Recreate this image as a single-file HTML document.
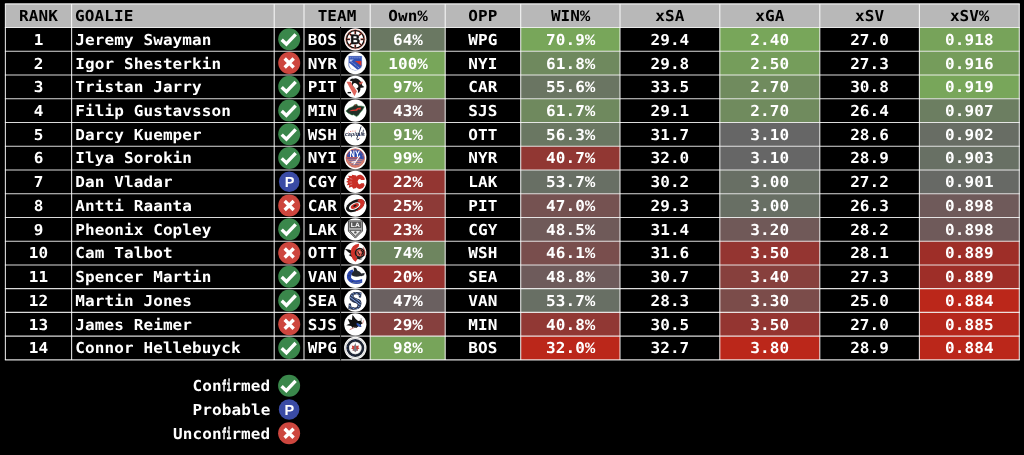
<!DOCTYPE html>
<html lang="en"><head><meta charset="utf-8"><title>Goalie Rankings</title>
<style>
html,body{margin:0;padding:0;background:#000;}
body{width:1024px;height:455px;overflow:hidden;position:relative;}
svg{position:absolute;left:0;top:0;display:block;}
text{font-family:"DejaVu Sans Mono", "Liberation Mono", monospace;font-weight:bold;font-size:16px;letter-spacing:0.1px;text-rendering:geometricPrecision;}
.p{font-family:"Liberation Mono","DejaVu Sans Mono",monospace;font-size:17px;}
.fi{stroke:#fff;stroke-width:0.45px;}
.h{fill:#000;} .w{fill:#fff;} .m{text-anchor:middle;} .e{text-anchor:end;}
</style></head><body>
<svg width="1024" height="455" viewBox="0 0 1024 455">
<defs>
<pattern id="seaS" width="2.2" height="2.2" patternUnits="userSpaceOnUse" patternTransform="rotate(35)"><rect width="2.2" height="2.2" fill="#202b45"/><rect width="2.2" height="0.9" fill="#7ea0e4"/></pattern>
<g id="ic-c"><circle r="11" fill="#3a874b"/><path d="M-7.5 0.4L-2.8 4.9L6.5 -4.9" fill="none" stroke="#fff" stroke-width="3.4" stroke-linecap="butt" stroke-linejoin="miter"/></g>
<g id="ic-x"><circle r="11" fill="#cd463e"/><path d="M-4.5 -4.5L4.5 4.5M4.5 -4.5L-4.5 4.5" fill="none" stroke="#fff" stroke-width="3.4" stroke-linecap="butt"/></g>
<g id="ic-p"><circle r="10.3" fill="#3a4ba5"/><text x="0.4" y="5.2" text-anchor="middle" style="font-family:'Liberation Sans',sans-serif;font-size:14.5px;font-weight:bold;fill:#fff">P</text></g>
<g id="lg-BOS"><circle r="11.1" fill="#fff"/><circle r="8.8" fill="none" stroke="#111" stroke-width="1.4"/><circle r="9.7" fill="none" stroke="#e0563a" stroke-width="0.45"/><g stroke="#d2452f" stroke-width="1.7"><path d="M0 -8.4V8.4M-8.4 0H8.4M-5.9 -5.9L5.9 5.9M5.9 -5.9L-5.9 5.9"/></g><g stroke="#111" stroke-width="1"><path d="M0 -8.4V8.4M-8.4 0H8.4M-5.9 -5.9L5.9 5.9M5.9 -5.9L-5.9 5.9"/></g><circle r="5.3" fill="#fff"/><text x="0" y="4.9" text-anchor="middle" style="font-family:'Liberation Sans',sans-serif;font-size:13.6px;font-weight:bold;fill:#111;stroke:#111;stroke-width:0.5px">B</text></g>
<g id="lg-NYR"><circle r="11.1" fill="#fff"/><path d="M-6.7 -7H6.6V2.5Q6.4 6 0 7.4Q-6.4 6 -6.7 2.5Z" fill="#3050b4"/><path d="M-6.2 -0.4L2.2 6.6Q0.8 7.1 0 7.3Q-5.8 5.9 -6.1 2.5Z" fill="#fff"/><path d="M-0.4 -2.1H6.1V2.9Z" fill="#d2362f"/><path d="M-5.6 -3.6H-1.4L-5.6 -1.2Z" fill="#c5cef0"/><path d="M-5.6 -5.3H5.6" stroke="#9fb0e4" stroke-width="0.9" stroke-dasharray="1.2 0.7"/><path d="M-4.2 -1.6L4 5" stroke="#a9b8e8" stroke-width="0.9" stroke-dasharray="1 0.8"/><path d="M-6.7 -7H6.6V2.5Q6.4 6 0 7.4Q-6.4 6 -6.7 2.5Z" fill="none" stroke="#aeb6d6" stroke-width="0.4"/></g>
<g id="lg-PIT"><circle r="11.1" fill="#fff"/><path d="M-8.8 -5.1L-4.6 -5.1L1.6 4.4L-0.8 9.4Z" fill="#e0665c"/><path d="M2.4 -5.4L7.8 -5.2L5.4 -0.6L3 -1.4Z" fill="#e0665c"/><path d="M-5.6 -6.4Q-4.6 -8.6 -1.6 -8.2Q0.6 -9 3 -7.6Q5.6 -6.2 6 -3.4Q6.6 -1.4 9 0.2Q7.2 1.4 5.2 0.8Q5.4 3.4 4 5.4L2.6 6.2Q3.4 3.2 1.4 1.6Q-1.8 0.6 -3.2 -2.2Q-3.8 -4 -3 -5.6Q-4.4 -5.6 -5.6 -6.4Z" fill="#141414"/><ellipse cx="0.3" cy="-1.3" rx="3" ry="2.1" transform="rotate(40 0.3 -1.3)" fill="#fff"/><path d="M3.4 -4.6L6.4 -4.2L4.8 -1.8Z" fill="#d9584e"/><path d="M-7.7 5.8H-4.3" stroke="#141414" stroke-width="1.4"/></g>
<g id="lg-MIN"><circle r="11.1" fill="#fff"/><path d="M-9.4 0.4Q-6.6 -3 -2.4 -4.2Q-0.6 -6.6 1.6 -6.4L2.6 -4.6Q6 -5 9 -3.8Q7.6 -0.4 4.6 2.4Q3.4 5.2 1.2 6L-1.6 4.2Q-3.4 5 -4.4 3.8Q-7.4 3 -9.4 0.4Z" fill="#1f2f27"/><path d="M-9.4 0.4Q-6.6 -3 -2.4 -4.2Q-0.6 -6.6 1.6 -6.4L2.6 -4.6Q6 -5 9 -3.8Q7.6 -0.4 4.6 2.4Q3.4 5.2 1.2 6L-1.6 4.2Q-3.4 5 -4.4 3.8Q-7.4 3 -9.4 0.4Z" fill="none" stroke="#2f8a45" stroke-width="0.5"/><path d="M-6.6 0.6L-3.2 -0.8L0.2 -1.2L2 -2.6L5.8 -3.2L5 -0.6L3.4 -1.4L1.6 0.2L-2.4 0.4Z" fill="#d63a30"/><path d="M-0.6 -5.4L1 -5.6" stroke="#d63a30" stroke-width="0.8"/></g>
<g id="lg-WSH"><circle r="11.1" fill="#fff"/><text x="-0.3" y="2.1" text-anchor="middle" textLength="20" lengthAdjust="spacingAndGlyphs" style="font-family:'Liberation Sans',sans-serif;font-size:5.4px;font-weight:bold;font-style:italic;fill:#1d2440">capitals</text><path d="M5.8 -7.8Q4.2 -2 2.4 1.6Q1 4.6 1.8 5.4Q2.6 6 3.8 4.6" fill="none" stroke="#1d2440" stroke-width="0.9"/><path d="M8.2 -4.6L7.2 1" stroke="#1d2440" stroke-width="0.8"/><g fill="#d8544c"><circle cx="-4.6" cy="-2.9" r="0.5"/><circle cx="-2.4" cy="-3.3" r="0.5"/><circle cx="-0.2" cy="-3.3" r="0.5"/><circle cx="-6.6" cy="-2.1" r="0.4"/><circle cx="4.4" cy="3.9" r="0.45"/></g><circle cx="4.1" cy="0.8" r="0.7" fill="#2f4fb3"/></g>
<g id="lg-NYI"><circle r="11.1" fill="#fff"/><circle r="9.2" fill="#2c4cae"/><path d="M-9.1 1.2H9.1A9.2 9.2 0 0 1 -9.1 1.2Z" fill="#d98a78"/><path d="M-7 2.6H7.4M-6 4.6H6M-4 6.6H4" stroke="#2c4cae" stroke-width="0.8" opacity="0.75"/><path d="M-9 -0.9H3.4L5.6 0.3H-9.1Z" fill="#de5f4a"/><circle r="9.2" fill="none" stroke="#de6a55" stroke-width="0.9"/><circle r="7.6" fill="none" stroke="#de6a55" stroke-width="0.8" stroke-dasharray="1.1 0.9" pathLength="60" stroke-dashoffset="-30" opacity="0.9"/><path d="M-1.6 6.4L4.6 -2.4" stroke="#fff" stroke-width="1.1"/><path d="M-3.8 4.2L0.4 3.4" stroke="#fff" stroke-width="1.2"/><path d="M5.4 -0.4L8 1.2" stroke="#2c4cae" stroke-width="0.9"/><text x="-0.6" y="-1.5" text-anchor="middle" textLength="10.4" lengthAdjust="spacingAndGlyphs" style="font-family:'Liberation Sans',sans-serif;font-size:9.2px;font-weight:bold;fill:#fff">NY</text></g>
<g id="lg-CGY"><circle r="11.1" fill="#fff"/><path d="M9.3 -3.6A5.5 7.1 0 1 0 9.3 3.6L8.6 1.4H5.8A1.9 2.5 0 1 1 5.8 -1.9H9.3Z" fill="#c92f27"/><path d="M1 -6.4L-3.6 -7.2L-3.2 -5.8L-7.4 -6L-6 -4L-9 -3L-7 -1.6L-9.2 0.2L-7 1L-8.6 3.4L-6 3.2L-6.6 6L-3.4 5L-2 6.8L1 6.2Z" fill="#c92f27"/><path d="M-5.6 -3.4L-3 -2.6M-6 0.2L-3.4 0.2M-5.2 3L-3 2.2" stroke="#fff" stroke-width="0.5" opacity="0.7"/></g>
<g id="lg-CAR"><circle r="11.1" fill="#fff"/><g transform="rotate(-26)"><ellipse rx="10" ry="5.5" fill="#161616"/><path d="M6 -4.4A10 5.5 0 0 1 -3 5.25Q2.4 4.4 4.6 1.8Q6.2 -1 3.6 -3Q4.8 -3.6 6 -4.4Z" fill="#cf3129"/><ellipse cx="-0.8" cy="0.2" rx="6.2" ry="3.2" fill="#fff"/><ellipse cx="-0.6" cy="0.2" rx="4.4" ry="2.2" fill="#cf3129"/><ellipse cx="-0.4" cy="0" rx="1.8" ry="0.9" fill="#161616"/></g></g>
<g id="lg-LAK"><circle r="11.1" fill="#fff"/><path d="M-6.9 -8.4H7.1V1.8L0.1 8.8L-6.9 1.8Z" fill="#b4b4b4" stroke="#4a4a4a" stroke-width="1"/><path d="M-5.3 -6.9H5.5V-1.7H-5.3Z" fill="#5a5a5a" stroke="#3a3a3a" stroke-width="0.6"/><path d="M-5.4 1H5.6V1.5L0.1 6.9L-5.4 1.5Z" fill="#ececec" stroke="#333" stroke-width="0.8"/><text x="0.1" y="-2.1" text-anchor="middle" textLength="9.2" lengthAdjust="spacingAndGlyphs" style="font-family:'Liberation Sans',sans-serif;font-size:6.2px;font-weight:bold;fill:#fff">LA</text><circle cx="0.1" cy="3.1" r="1.2" fill="#555"/></g>
<g id="lg-OTT"><circle r="11.1" fill="#fff"/><path d="M-10.6 -4.2Q-6 -3.4 -3 -2.4L-2 4.6Q-5 3.4 -6.6 2L-4.4 1Q-7.8 -1.2 -10.6 -4.2Z" fill="#151515"/><path d="M3.8 -9.2Q-4.6 -8.4 -4.4 -0.4Q-4 6.4 0.4 8.8Q1.4 6.8 2.6 6Q0 3.6 0.2 -0.6Q0.4 -4.6 3.4 -6.4Z" fill="#cf3129"/><circle cx="4.6" cy="-0.2" r="4.4" fill="#d9584c" stroke="#151515" stroke-width="1.5"/><path d="M0.8 4.8Q3.4 7.6 7.4 5.6Q5 6 3 3.8Z" fill="#151515"/><path d="M5.6 -3L7.8 -1L6.2 2.4" fill="none" stroke="#151515" stroke-width="1.1"/><path d="M2.4 -1.6L4.4 1.8" stroke="#151515" stroke-width="0.9"/><circle cx="4.6" cy="-0.9" r="0.8" fill="#f0b8b0"/><path d="M8 -5.6Q10.4 -2 9.4 2.8" fill="none" stroke="#cf3129" stroke-width="0.8"/></g>
<g id="lg-VAN"><circle r="11.1" fill="#fff"/><path d="M7 5.6Q2 8.4 -3.4 6.4Q-9 3.6 -8.4 -1.4Q-7.4 -6 -2.8 -7.2L-0.6 -4.4Q-4 -3.4 -4.2 -0.4Q-4 2.8 -0.4 3.4Q3.2 3.6 6.8 2.2Z" fill="#2a46ae"/><path d="M-1.6 -9.4L0.8 -8.8L2 -6.4Q5 -5.4 6 -3.4L9.4 -3.8L8.8 -1.6L6.6 -0.8Q6 -0.4 5.2 -0.8Q1.4 0.6 -2.4 -0.8Q-4.4 -1.6 -3.6 -3.4Q-2.8 -4.8 -1.4 -5.6Z" fill="#24272e"/><path d="M-4 0.6Q0.8 2.6 7.4 0.4" fill="none" stroke="#fff" stroke-width="1.5"/><path d="M-3.6 5.6Q1 7.2 6.4 4.6" fill="none" stroke="#5a6f9e" stroke-width="0.9"/><g fill="#24272e" opacity="0.55"><circle cx="-6.4" cy="-1" r="0.7"/><circle cx="-5.6" cy="2.6" r="0.7"/><circle cx="-5" cy="-4" r="0.7"/><circle cx="-2.8" cy="4.8" r="0.7"/></g></g>
<g id="lg-SEA"><circle r="11.1" fill="#fff"/><text x="0" y="8.2" text-anchor="middle" transform="skewX(-6)" style="font-family:'Liberation Serif',serif;font-size:25px;font-weight:bold;fill:url(#seaS);stroke:#172036;stroke-width:1.1px;paint-order:stroke">S</text></g>
<g id="lg-SJS"><circle r="11.1" fill="#fff"/><path d="M-2.8 -9.6L0.4 -5.2L2.8 -3.4L6.6 -3.8L5.8 -2.2L7.4 -1.4L5.6 0.2L6 2.6L3.2 2L1 3.6L-1.6 2.4L-2.4 4L-4.2 1.8L-9 1L-5.4 -0.8L-7.6 -5.2L-3.4 -4.2Z" fill="#111"/><path d="M1.4 -1.6L5.4 0.4L6 2.4L3.6 2.2L1.4 0.6Z" fill="#2f4fc0"/><path d="M3.2 -0.4L4.6 0.8" stroke="#36a06a" stroke-width="0.7"/><path d="M-5.6 5.4L-0.2 2.8" stroke="#c9756c" stroke-width="0.9"/><path d="M-1.4 3.4L1.6 2.6" stroke="#555" stroke-width="0.8"/><path d="M8.4 -4L7.2 -0.4" stroke="#d26a62" stroke-width="0.6"/><path d="M4.6 -5.2L6.6 -5.6L5.6 -4" fill="none" stroke="#777" stroke-width="0.5"/></g>
<g id="lg-WPG"><circle r="11.2" fill="#fff"/><circle r="10" fill="none" stroke="#c4c4c4" stroke-width="0.7"/><circle r="7.6" fill="none" stroke="#1d2433" stroke-width="2.7"/><circle r="5.9" fill="none" stroke="#cfcfcf" stroke-width="0.5"/><path d="M0 -3.6L1.2 -2L3.6 -2.6L3 -0.6L4.2 0.4L2.4 1.2L2.6 2.8L0.6 2.4L0 4.4L-0.6 2.4L-2.6 2.8L-2.4 1.2L-4.2 0.4L-3 -0.6L-3.6 -2.6L-1.2 -2Z" fill="#c8403a"/><path d="M0 -5.4L0.9 -2.2L1 0.6L3 2.4L1 2.4L0.8 3.8L0 3.4L-0.8 3.8L-1 2.4L-3 2.4L-1 0.6L-0.9 -2.2Z" fill="#777c85"/><g fill="#3b5fd0"><circle cx="-1.2" cy="-7.6" r="0.4"/><circle cx="-7.5" cy="-1.4" r="0.4"/><circle cx="-7.5" cy="1.6" r="0.4"/><circle cx="-3.2" cy="7" r="0.4"/></g></g>

</defs>
<rect x="0" y="0" width="1024" height="455" fill="#000"/>
<rect x="5.4" y="3.9" width="1013.9" height="23.6" fill="#b8b8b8"/>
<rect x="370.2" y="27.50" width="75" height="23.74" fill="#6a7862"/>
<rect x="520.7" y="27.50" width="99.3" height="23.74" fill="#78a65a"/>
<rect x="719.8" y="27.50" width="100" height="23.74" fill="#78a65a"/>
<rect x="919.4" y="27.50" width="99.9" height="23.74" fill="#77a35a"/>
<rect x="370.2" y="51.24" width="75" height="23.74" fill="#78a65a"/>
<rect x="520.7" y="51.24" width="99.3" height="23.74" fill="#6f895e"/>
<rect x="719.8" y="51.24" width="100" height="23.74" fill="#759d5b"/>
<rect x="919.4" y="51.24" width="99.9" height="23.74" fill="#759c5b"/>
<rect x="370.2" y="74.99" width="75" height="23.74" fill="#77a35a"/>
<rect x="520.7" y="74.99" width="99.3" height="23.74" fill="#6a7562"/>
<rect x="719.8" y="74.99" width="100" height="23.74" fill="#708b5e"/>
<rect x="919.4" y="74.99" width="99.9" height="23.74" fill="#78a65a"/>
<rect x="370.2" y="98.73" width="75" height="23.74" fill="#705958"/>
<rect x="520.7" y="98.73" width="99.3" height="23.74" fill="#6f895e"/>
<rect x="719.8" y="98.73" width="100" height="23.74" fill="#708b5e"/>
<rect x="919.4" y="98.73" width="99.9" height="23.74" fill="#6c7e61"/>
<rect x="370.2" y="122.47" width="75" height="23.74" fill="#749b5b"/>
<rect x="520.7" y="122.47" width="99.3" height="23.74" fill="#6a7762"/>
<rect x="719.8" y="122.47" width="100" height="23.74" fill="#666666"/>
<rect x="919.4" y="122.47" width="99.9" height="23.74" fill="#686d64"/>
<rect x="370.2" y="146.21" width="75" height="23.74" fill="#78a55a"/>
<rect x="520.7" y="146.21" width="99.3" height="23.74" fill="#913733"/>
<rect x="719.8" y="146.21" width="100" height="23.74" fill="#666666"/>
<rect x="919.4" y="146.21" width="99.9" height="23.74" fill="#687064"/>
<rect x="370.2" y="169.96" width="75" height="23.74" fill="#933632"/>
<rect x="520.7" y="169.96" width="99.3" height="23.74" fill="#686f64"/>
<rect x="719.8" y="169.96" width="100" height="23.74" fill="#686f64"/>
<rect x="919.4" y="169.96" width="99.9" height="23.74" fill="#676965"/>
<rect x="370.2" y="193.70" width="75" height="23.74" fill="#8d3a37"/>
<rect x="520.7" y="193.70" width="99.3" height="23.74" fill="#755251"/>
<rect x="719.8" y="193.70" width="100" height="23.74" fill="#686f64"/>
<rect x="919.4" y="193.70" width="99.9" height="23.74" fill="#6f5a5a"/>
<rect x="370.2" y="217.44" width="75" height="23.74" fill="#913733"/>
<rect x="520.7" y="217.44" width="99.3" height="23.74" fill="#6f5a59"/>
<rect x="719.8" y="217.44" width="100" height="23.74" fill="#705958"/>
<rect x="919.4" y="217.44" width="99.9" height="23.74" fill="#6f5a5a"/>
<rect x="370.2" y="241.19" width="75" height="23.74" fill="#6e855f"/>
<rect x="520.7" y="241.19" width="99.3" height="23.74" fill="#794e4d"/>
<rect x="719.8" y="241.19" width="100" height="23.74" fill="#943531"/>
<rect x="919.4" y="241.19" width="99.9" height="23.74" fill="#9e2e28"/>
<rect x="370.2" y="264.93" width="75" height="23.74" fill="#96332f"/>
<rect x="520.7" y="264.93" width="99.3" height="23.74" fill="#6e5b5b"/>
<rect x="719.8" y="264.93" width="100" height="23.74" fill="#87403d"/>
<rect x="919.4" y="264.93" width="99.9" height="23.74" fill="#9e2e28"/>
<rect x="370.2" y="288.67" width="75" height="23.74" fill="#6a6060"/>
<rect x="520.7" y="288.67" width="99.3" height="23.74" fill="#686f64"/>
<rect x="719.8" y="288.67" width="100" height="23.74" fill="#7b4c4a"/>
<rect x="919.4" y="288.67" width="99.9" height="23.74" fill="#bb271a"/>
<rect x="370.2" y="312.41" width="75" height="23.74" fill="#86403e"/>
<rect x="520.7" y="312.41" width="99.3" height="23.74" fill="#913834"/>
<rect x="719.8" y="312.41" width="100" height="23.74" fill="#943531"/>
<rect x="919.4" y="312.41" width="99.9" height="23.74" fill="#b5271c"/>
<rect x="370.2" y="336.16" width="75" height="23.74" fill="#77a45a"/>
<rect x="520.7" y="336.16" width="99.3" height="23.74" fill="#bb271a"/>
<rect x="719.8" y="336.16" width="100" height="23.74" fill="#bb271a"/>
<rect x="919.4" y="336.16" width="99.9" height="23.74" fill="#bb271a"/>
<g stroke="#ffffff" stroke-width="1.1" stroke-opacity="0.86" fill="none">
<path d="M4.9 3.9H1019.8"/>
<path d="M4.9 27.50H1019.8"/>
<path d="M4.9 51.24H1019.8"/>
<path d="M4.9 74.99H1019.8"/>
<path d="M4.9 98.73H1019.8"/>
<path d="M4.9 122.47H1019.8"/>
<path d="M4.9 146.21H1019.8"/>
<path d="M4.9 169.96H1019.8"/>
<path d="M4.9 193.70H1019.8"/>
<path d="M4.9 217.44H1019.8"/>
<path d="M4.9 241.19H1019.8"/>
<path d="M4.9 264.93H1019.8"/>
<path d="M4.9 288.67H1019.8"/>
<path d="M4.9 312.41H1019.8"/>
<path d="M4.9 336.16H1019.8"/>
<path d="M4.9 359.90H1019.8"/>
<path d="M5.4 3.9V359.90"/>
<path d="M71.6 3.9V359.90"/>
<path d="M274.2 3.9V359.90"/>
<path d="M304 3.9V359.90"/>
<path d="M370.2 3.9V359.90"/>
<path d="M445.2 3.9V359.90"/>
<path d="M520.7 3.9V359.90"/>
<path d="M620 3.9V359.90"/>
<path d="M719.8 3.9V359.90"/>
<path d="M819.8 3.9V359.90"/>
<path d="M919.4 3.9V359.90"/>
<path d="M1019.3 3.9V359.90"/>
</g>
<path d="M340.6 26.9V360.50" stroke="#161616" stroke-width="1"/>
<g class="h" transform="scale(1,0.94)">
<text class="m" x="38.5" y="22.19">RANK</text>
<text x="75" y="22.19">GOALIE</text>
<text class="m" x="337.1" y="22.19">TEAM</text>
<text class="m" x="408" y="22.19">Own<tspan class="p">%</tspan></text>
<text class="m" x="482.95" y="22.19">OPP</text>
<text class="m" x="570.65" y="22.19">WIN<tspan class="p">%</tspan></text>
<text class="m" x="669.9" y="22.19">xSA</text>
<text class="m" x="769.8" y="22.19">xGA</text>
<text class="m" x="869.6" y="22.19">xSV</text>
<text class="m" x="969.65" y="22.19">xSV<tspan class="p">%</tspan></text>
</g>
<g class="w" transform="scale(1,0.94)">
<text class="m" x="38.5" y="47.63">1</text>
<text x="75.3" y="47.63">Jeremy Swayman</text>
<text x="307.8" y="47.63">BOS</text>
<text class="m" x="408" y="47.63">64<tspan class="p">%</tspan></text>
<text class="m" x="482.95" y="47.63">WPG</text>
<text class="m" x="570.65" y="47.63">70.9<tspan class="p">%</tspan></text>
<text class="m" x="669.9" y="47.63">29.4</text>
<text class="m" x="769.8" y="47.63">2.40</text>
<text class="m" x="869.6" y="47.63">27.0</text>
<text class="m" x="969.35" y="47.63">0.918</text>
<text class="m" x="38.5" y="72.89">2</text>
<text x="75.3" y="72.89">Igor Shesterkin</text>
<text x="307.8" y="72.89">NYR</text>
<text class="m" x="408" y="72.89">100<tspan class="p">%</tspan></text>
<text class="m" x="482.95" y="72.89">NYI</text>
<text class="m" x="570.65" y="72.89">61.8<tspan class="p">%</tspan></text>
<text class="m" x="669.9" y="72.89">29.8</text>
<text class="m" x="769.8" y="72.89">2.50</text>
<text class="m" x="869.6" y="72.89">27.3</text>
<text class="m" x="969.35" y="72.89">0.916</text>
<text class="m" x="38.5" y="98.15">3</text>
<text x="75.3" y="98.15">Tristan Jarry</text>
<text x="307.8" y="98.15">PIT</text>
<text class="m" x="408" y="98.15">97<tspan class="p">%</tspan></text>
<text class="m" x="482.95" y="98.15">CAR</text>
<text class="m" x="570.65" y="98.15">55.6<tspan class="p">%</tspan></text>
<text class="m" x="669.9" y="98.15">33.5</text>
<text class="m" x="769.8" y="98.15">2.70</text>
<text class="m" x="869.6" y="98.15">30.8</text>
<text class="m" x="969.35" y="98.15">0.919</text>
<text class="m" x="38.5" y="123.40">4</text>
<text x="75.3" y="123.40">Filip Gustavsson</text>
<text x="307.8" y="123.40">MIN</text>
<text class="m" x="408" y="123.40">43<tspan class="p">%</tspan></text>
<text class="m" x="482.95" y="123.40">SJS</text>
<text class="m" x="570.65" y="123.40">61.7<tspan class="p">%</tspan></text>
<text class="m" x="669.9" y="123.40">29.1</text>
<text class="m" x="769.8" y="123.40">2.70</text>
<text class="m" x="869.6" y="123.40">26.4</text>
<text class="m" x="969.35" y="123.40">0.907</text>
<text class="m" x="38.5" y="148.66">5</text>
<text x="75.3" y="148.66">Darcy Kuemper</text>
<text x="307.8" y="148.66">WSH</text>
<text class="m" x="408" y="148.66">91<tspan class="p">%</tspan></text>
<text class="m" x="482.95" y="148.66">OTT</text>
<text class="m" x="570.65" y="148.66">56.3<tspan class="p">%</tspan></text>
<text class="m" x="669.9" y="148.66">31.7</text>
<text class="m" x="769.8" y="148.66">3.10</text>
<text class="m" x="869.6" y="148.66">28.6</text>
<text class="m" x="969.35" y="148.66">0.902</text>
<text class="m" x="38.5" y="173.92">6</text>
<text x="75.3" y="173.92">Ilya Sorokin</text>
<text x="307.8" y="173.92">NYI</text>
<text class="m" x="408" y="173.92">99<tspan class="p">%</tspan></text>
<text class="m" x="482.95" y="173.92">NYR</text>
<text class="m" x="570.65" y="173.92">40.7<tspan class="p">%</tspan></text>
<text class="m" x="669.9" y="173.92">32.0</text>
<text class="m" x="769.8" y="173.92">3.10</text>
<text class="m" x="869.6" y="173.92">28.9</text>
<text class="m" x="969.35" y="173.92">0.903</text>
<text class="m" x="38.5" y="199.18">7</text>
<text x="75.3" y="199.18">Dan Vladar</text>
<text x="307.8" y="199.18">CGY</text>
<text class="m" x="408" y="199.18">22<tspan class="p">%</tspan></text>
<text class="m" x="482.95" y="199.18">LAK</text>
<text class="m" x="570.65" y="199.18">53.7<tspan class="p">%</tspan></text>
<text class="m" x="669.9" y="199.18">30.2</text>
<text class="m" x="769.8" y="199.18">3.00</text>
<text class="m" x="869.6" y="199.18">27.2</text>
<text class="m" x="969.35" y="199.18">0.901</text>
<text class="m" x="38.5" y="224.44">8</text>
<text x="75.3" y="224.44">Antti Raanta</text>
<text x="307.8" y="224.44">CAR</text>
<text class="m" x="408" y="224.44">25<tspan class="p">%</tspan></text>
<text class="m" x="482.95" y="224.44">PIT</text>
<text class="m" x="570.65" y="224.44">47.0<tspan class="p">%</tspan></text>
<text class="m" x="669.9" y="224.44">29.3</text>
<text class="m" x="769.8" y="224.44">3.00</text>
<text class="m" x="869.6" y="224.44">26.3</text>
<text class="m" x="969.35" y="224.44">0.898</text>
<text class="m" x="38.5" y="249.70">9</text>
<text x="75.3" y="249.70">Pheonix Copley</text>
<text x="307.8" y="249.70">LAK</text>
<text class="m" x="408" y="249.70">23<tspan class="p">%</tspan></text>
<text class="m" x="482.95" y="249.70">CGY</text>
<text class="m" x="570.65" y="249.70">48.5<tspan class="p">%</tspan></text>
<text class="m" x="669.9" y="249.70">31.4</text>
<text class="m" x="769.8" y="249.70">3.20</text>
<text class="m" x="869.6" y="249.70">28.2</text>
<text class="m" x="969.35" y="249.70">0.898</text>
<text class="m" x="38.5" y="274.95">10</text>
<text x="75.3" y="274.95">Cam Talbot</text>
<text x="307.8" y="274.95">OTT</text>
<text class="m" x="408" y="274.95">74<tspan class="p">%</tspan></text>
<text class="m" x="482.95" y="274.95">WSH</text>
<text class="m" x="570.65" y="274.95">46.1<tspan class="p">%</tspan></text>
<text class="m" x="669.9" y="274.95">31.6</text>
<text class="m" x="769.8" y="274.95">3.50</text>
<text class="m" x="869.6" y="274.95">28.1</text>
<text class="m" x="969.35" y="274.95">0.889</text>
<text class="m" x="38.5" y="300.21">11</text>
<text x="75.3" y="300.21">Spencer Martin</text>
<text x="307.8" y="300.21">VAN</text>
<text class="m" x="408" y="300.21">20<tspan class="p">%</tspan></text>
<text class="m" x="482.95" y="300.21">SEA</text>
<text class="m" x="570.65" y="300.21">48.8<tspan class="p">%</tspan></text>
<text class="m" x="669.9" y="300.21">30.7</text>
<text class="m" x="769.8" y="300.21">3.40</text>
<text class="m" x="869.6" y="300.21">27.3</text>
<text class="m" x="969.35" y="300.21">0.889</text>
<text class="m" x="38.5" y="325.47">12</text>
<text x="75.3" y="325.47">Martin Jones</text>
<text x="307.8" y="325.47">SEA</text>
<text class="m" x="408" y="325.47">47<tspan class="p">%</tspan></text>
<text class="m" x="482.95" y="325.47">VAN</text>
<text class="m" x="570.65" y="325.47">53.7<tspan class="p">%</tspan></text>
<text class="m" x="669.9" y="325.47">28.3</text>
<text class="m" x="769.8" y="325.47">3.30</text>
<text class="m" x="869.6" y="325.47">25.0</text>
<text class="m" x="969.35" y="325.47">0.884</text>
<text class="m" x="38.5" y="350.73">13</text>
<text x="75.3" y="350.73">James Reimer</text>
<text x="307.8" y="350.73">SJS</text>
<text class="m" x="408" y="350.73">29<tspan class="p">%</tspan></text>
<text class="m" x="482.95" y="350.73">MIN</text>
<text class="m" x="570.65" y="350.73">40.8<tspan class="p">%</tspan></text>
<text class="m" x="669.9" y="350.73">30.5</text>
<text class="m" x="769.8" y="350.73">3.50</text>
<text class="m" x="869.6" y="350.73">27.0</text>
<text class="m" x="969.35" y="350.73">0.885</text>
<text class="m" x="38.5" y="375.99">14</text>
<text x="75.3" y="375.99">Connor Hellebuyck</text>
<text x="307.8" y="375.99">WPG</text>
<text class="m" x="408" y="375.99">98<tspan class="p">%</tspan></text>
<text class="m" x="482.95" y="375.99">BOS</text>
<text class="m" x="570.65" y="375.99">32.0<tspan class="p">%</tspan></text>
<text class="m" x="669.9" y="375.99">32.7</text>
<text class="m" x="769.8" y="375.99">3.80</text>
<text class="m" x="869.6" y="375.99">28.9</text>
<text class="m" x="969.35" y="375.99">0.884</text>
</g>
<g>
<use href="#ic-c" x="289.2" y="39.27"/>
<use href="#lg-BOS" x="355.3" y="39.37"/>
<use href="#ic-x" x="289.2" y="63.01"/>
<use href="#lg-NYR" x="355.3" y="63.11"/>
<use href="#ic-c" x="289.2" y="86.76"/>
<use href="#lg-PIT" x="355.3" y="86.86"/>
<use href="#ic-c" x="289.2" y="110.50"/>
<use href="#lg-MIN" x="355.3" y="110.60"/>
<use href="#ic-c" x="289.2" y="134.24"/>
<use href="#lg-WSH" x="355.3" y="134.34"/>
<use href="#ic-c" x="289.2" y="157.99"/>
<use href="#lg-NYI" x="355.3" y="158.09"/>
<use href="#ic-p" x="289.2" y="181.73"/>
<use href="#lg-CGY" x="355.3" y="181.83"/>
<use href="#ic-x" x="289.2" y="205.47"/>
<use href="#lg-CAR" x="355.3" y="205.57"/>
<use href="#ic-c" x="289.2" y="229.21"/>
<use href="#lg-LAK" x="355.3" y="229.31"/>
<use href="#ic-x" x="289.2" y="252.96"/>
<use href="#lg-OTT" x="355.3" y="253.06"/>
<use href="#ic-c" x="289.2" y="276.70"/>
<use href="#lg-VAN" x="355.3" y="276.80"/>
<use href="#ic-c" x="289.2" y="300.44"/>
<use href="#lg-SEA" x="355.3" y="300.54"/>
<use href="#ic-x" x="289.2" y="324.19"/>
<use href="#lg-SJS" x="355.3" y="324.29"/>
<use href="#ic-c" x="289.2" y="347.93"/>
<use href="#lg-WPG" x="355.3" y="348.03"/>
</g>
<g class="w" transform="scale(1,0.94)">
<text x="192.55" y="416.17">Con<tspan textLength="9.631" lengthAdjust="spacingAndGlyphs" class="fi">fi</tspan>rmed</text>
<text x="192.55" y="441.38">Probable</text>
<text x="173.09" y="466.60">Uncon<tspan textLength="9.631" lengthAdjust="spacingAndGlyphs" class="fi">fi</tspan>rmed</text>
</g>
<g>
<use href="#ic-c" x="289.1" y="385.80"/>
<use href="#ic-p" x="289.1" y="409.50"/>
<use href="#ic-x" x="289.1" y="433.20"/>
</g>
</svg>
</body></html>
